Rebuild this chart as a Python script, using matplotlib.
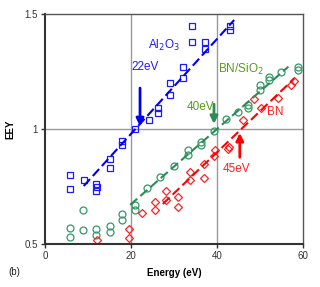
import matplotlib
matplotlib.use("Agg")
import matplotlib.pyplot as plt
import numpy as np

plt.rcParams['font.family'] = ['Liberation Sans', 'DejaVu Sans']

# Al2O3 data
al_e = [5.9, 5.9, 9.1, 11.9, 11.9, 12.1, 15.0, 15.0, 18.0, 18.0, 20.9, 24.3, 26.2, 26.2,
        29.0, 29.0, 32.2, 32.2, 34.2, 34.2, 37.2, 37.2, 43.1, 43.1]
al_y = [0.80, 0.74, 0.78, 0.76, 0.73, 0.75, 0.87, 0.83, 0.95, 0.93, 1.00, 1.04, 1.09, 1.07,
        1.20, 1.15, 1.27, 1.22, 1.45, 1.38, 1.38, 1.35, 1.45, 1.43]
# BN/SiO2 data
bs_e = [5.9, 5.9, 8.8, 8.8, 11.9, 11.9, 15.0, 15.0, 18.0, 18.0, 21.0, 21.0, 23.7, 26.7,
        30.1, 33.2, 33.2, 36.3, 36.3, 39.3, 42.1, 44.8, 47.1, 47.1, 50.1, 50.1, 52.2, 52.2,
        54.9, 58.8, 58.8]
bs_y = [0.57, 0.53, 0.65, 0.56, 0.565, 0.54, 0.578, 0.552, 0.63, 0.604, 0.67, 0.647, 0.742,
        0.79, 0.839, 0.887, 0.909, 0.945, 0.93, 0.99, 1.042, 1.075, 1.104, 1.09, 1.17, 1.19,
        1.225, 1.213, 1.246, 1.271, 1.257]
# BN data
bn_e = [12.1, 19.6, 19.6, 22.6, 25.6, 25.6, 28.1, 28.1, 31.0, 31.0, 33.8, 33.8, 36.9, 36.9,
        39.4, 39.5, 42.5, 42.9, 46.0, 48.7, 50.2, 54.1, 57.2, 57.8]
bn_y = [0.517, 0.564, 0.527, 0.636, 0.684, 0.648, 0.73, 0.69, 0.703, 0.663, 0.813, 0.778,
        0.848, 0.786, 0.883, 0.909, 0.912, 0.92, 1.039, 1.129, 1.09, 1.133, 1.191, 1.21]

# fit lines (start/end)
al_fit_e = [9.0, 44.0]
al_fit_y = [0.752, 1.474]
bs_fit_e = [19.8, 56.6]
bs_fit_y = [0.670, 1.271]
bn_fit_e = [27.4, 58.0]
bn_fit_y = [0.674, 1.220]

blue = '#1a1aff'
green = '#339966'
olive = '#5a9a1a'
red = '#ff2020'

fig = plt.figure(figsize=(3.2, 2.87), dpi=100)
ax = fig.add_axes([45/320, 1-244/287, (303-45)/320, (244-14)/287])

ax.plot(al_e, al_y, linestyle='none', marker='s', ms=3.8, mfc='none', mec=blue, mew=0.9)
ax.plot(bs_e, bs_y, linestyle='none', marker='o', ms=5, mfc='none', mec=green, mew=0.9)
ax.plot(bn_e, bn_y, linestyle='none', marker='D', ms=3.6, mfc='none', mec=red, mew=0.9)

ax.plot(al_fit_e, al_fit_y, color='#0000ee', lw=1.5, dashes=(4.5, 2))
ax.plot(bs_fit_e, bs_fit_y, color='#2e8b57', lw=1.5, dashes=(4.5, 2))
ax.plot(bn_fit_e, bn_fit_y, color='#ff0000', lw=1.5, dashes=(4.5, 2))

ax.set_xlim(0, 60)
ax.set_ylim(0.5, 1.5)
ax.set_xticks([0, 20, 40, 60])
ax.set_yticks([0.5, 1, 1.5])
ax.set_yticklabels(['0.5', '1', '1.5'])
ax.axvline(20, color='#999999', lw=1, zorder=0)
ax.axvline(40, color='#999999', lw=1, zorder=0)
ax.axhline(1, color='#999999', lw=1, zorder=0)

for s in ['left', 'bottom']:
    ax.spines[s].set_linewidth(1.5)
    ax.spines[s].set_color('#333333')
for s in ['top', 'right']:
    ax.spines[s].set_linewidth(1)
    ax.spines[s].set_color('#555555')
ax.tick_params(labelsize=7, length=3, width=1, colors='#333333', pad=2)

ax.set_xlabel('Energy (eV)', fontsize=7, fontweight='bold', labelpad=5)
ax.set_ylabel('EEY', fontsize=7, fontweight='bold', labelpad=7)

# arrows
ax.annotate('', xy=(22.1, 1.0), xytext=(22.1, 1.19),
            arrowprops=dict(arrowstyle='-|>', color='#0000ee', lw=2, mutation_scale=11))
ax.annotate('', xy=(39.3, 1.01), xytext=(39.3, 1.12),
            arrowprops=dict(arrowstyle='-|>', color='#2e8b57', lw=2, mutation_scale=11))
ax.annotate('', xy=(45.3, 0.995), xytext=(45.3, 0.865),
            arrowprops=dict(arrowstyle='-|>', color='#ff0000', lw=2, mutation_scale=11))

ax.text(20.2, 1.27, '22eV', color=blue, fontsize=8.5, va='center', ha='left')
ax.text(24.0, 1.365, 'Al$_2$O$_3$', color=blue, fontsize=8.5, va='center', ha='left')
ax.text(39.4, 1.096, '40eV', color=olive, fontsize=8.5, va='center', ha='right')
ax.text(40.3, 1.26, 'BN/SiO$_2$', color=olive, fontsize=8.5, va='center', ha='left')
ax.text(41.3, 0.826, '45eV', color=red, fontsize=8.5, va='center', ha='left')
ax.text(51.6, 1.075, 'BN', color=red, fontsize=8.5, va='center', ha='left')

fig.text(8/320, 1-272/287, '(b)', fontsize=7, va='center', ha='left', color='#222222')

fig.savefig('out.png', dpi=100)
